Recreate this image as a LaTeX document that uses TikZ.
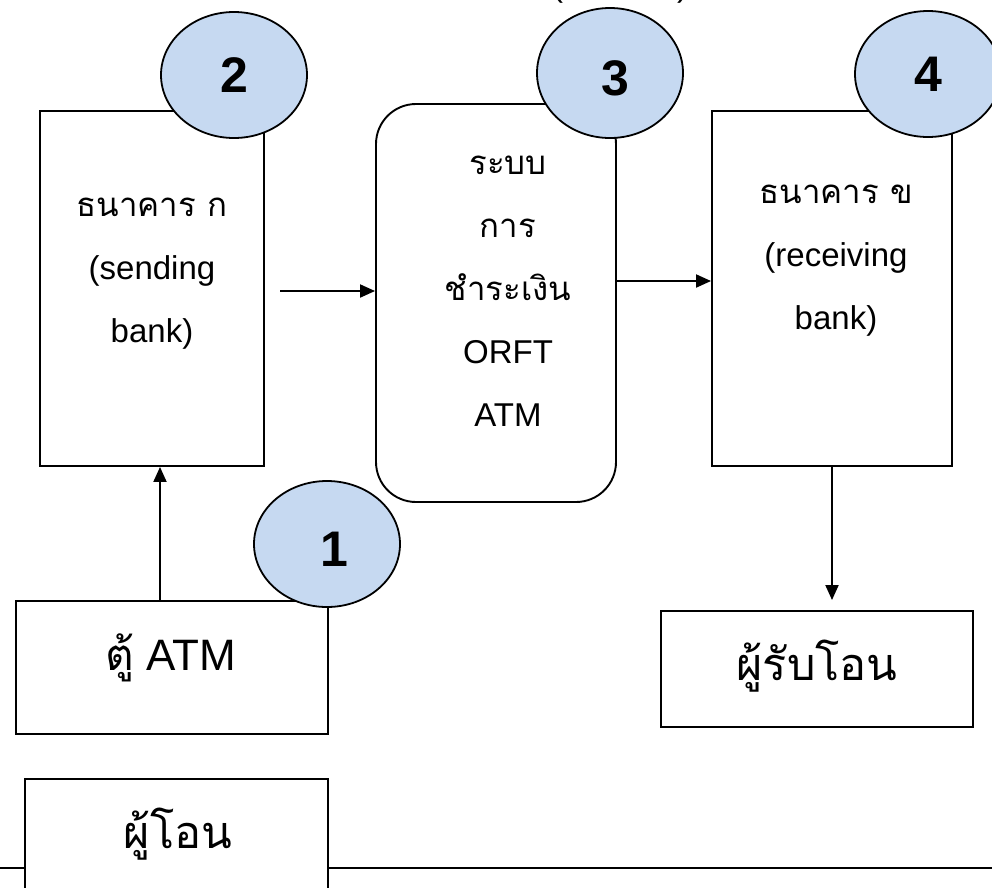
\documentclass[tikz,border=0pt]{standalone}
\usepackage{fontspec}
\setmainfont{Liberation Sans}
\newfontfamily\thaifont[Script=Thai]{Loma}
\usetikzlibrary{shapes.geometric,arrows.meta,positioning}
\definecolor{stepblue}{HTML}{C6D9F1}
\tikzstyle{box} = [draw,line width=1.9pt,fill=white,inner sep=0pt]
\tikzstyle{stepmark} = [ellipse,draw,line width=1.8pt,fill=stepblue,minimum width=146pt,minimum height=126pt,inner sep=0pt,font=\fontsize{50}{50}\selectfont\bfseries]
\tikzstyle{txt} = [align=center,inner sep=0pt,font=\fontsize{33}{63}\selectfont]
\tikzstyle{bigtxt} = [anchor=base,inner sep=0pt,font=\fontsize{44}{44}\selectfont]
\tikzstyle{flow} = [line width=1.9pt,->]
\tikzset{>={Triangle[length=15pt,width=13pt]}}

\begin{document}
\begin{tikzpicture}[x=1pt,y=-1pt]
    \useasboundingbox (0,0) rectangle (992,887);

    % ground line behind the sender
    \coordinate (gl) at (0,868);
    \coordinate (gr) at (992,868);
    \draw [line width=1.9pt] (gl) -- (gr);

    % boxes
    \node [box,minimum width=224pt,minimum height=355pt] (banka) at (152,288.5) {};
    \node [box,rounded corners=40pt,minimum width=240pt,minimum height=398pt] (orft) at (496,303) {};
    \node [box,minimum width=240pt,minimum height=355pt] (bankb) at (832,288.5) {};
    \node [box,minimum width=312pt,minimum height=133pt] (atm) at (172,667.5) {};
    \node [box,minimum width=312pt,minimum height=116pt] (recv) at (817,669) {};
    \node [box,minimum width=303pt,minimum height=141pt] (sender) at (176.5,849.5) {};

    % texts
    \node [txt,anchor=base] (toptxt) at (620,-4) {(\hspace{114pt})};
    \node [txt] (bankatxt) at (152,274) {{\thaifont ธนาคาร ก}\\(sending\\bank)};
    \node [txt] (orfttxt) at (508,291) {{\thaifont ระบบ}\\{\thaifont การ}\\{\thaifont ชำระเงิน}\\ORFT\\ATM};
    \node [txt] (bankbtxt) at (836,261) {{\thaifont ธนาคาร ข}\\(receiving\\bank)};
    \node [bigtxt] (atmtxt) at (171,670) {{\thaifont ตู้} ATM};
    \node [bigtxt,font=\fontsize{45}{45}\selectfont\thaifont] (recvtxt) at (817,680) {ผู้รับโอน};
    \node [bigtxt,font=\fontsize{45}{45}\selectfont\thaifont] (sendertxt) at (178,848) {ผู้โอน};

    % arrows
    \coordinate (aout) at (280,291);
    \draw [flow] (aout) -- (aout -| orft.west);
    \draw [flow] ([yshift=22pt]orft.east) coordinate (oout) -- (oout -| bankb.west);
    \draw [flow] ([xshift=-12pt]atm.north) coordinate (atmout) -- (atmout |- banka.south);
    \coordinate (recvtop) at ([yshift=10pt]recv.north);
    \draw [flow] (bankb.south) -- (bankb.south |- recvtop);

    % step numbers
    \node [stepmark] (s1) at (327,544) {\hspace{14pt}\rule{0pt}{44pt}1};
    \node [stepmark] (s2) at (234,75) {2};
    \node [stepmark,minimum height=130pt] (s3) at (610,73) {\hspace{10pt}\rule{0pt}{46pt}3};
    \node [stepmark] (s4) at (928,74) {4};
\end{tikzpicture}
\end{document}
